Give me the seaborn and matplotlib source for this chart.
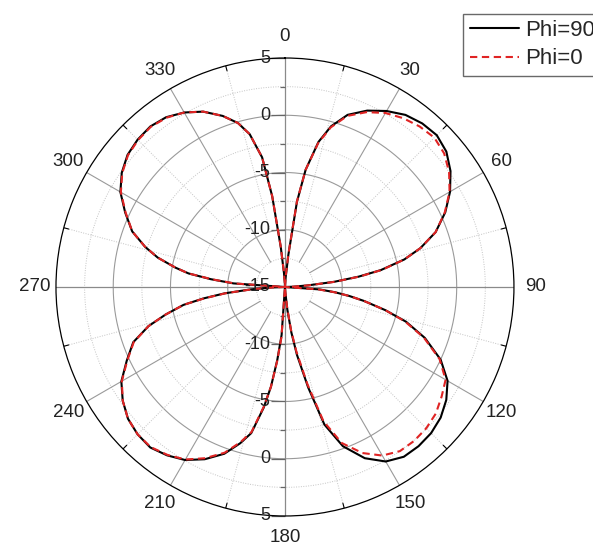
import numpy as np
import matplotlib
matplotlib.use("Agg")
import matplotlib.pyplot as plt
import seaborn as sns

# ---- data ----
# sample offsets (degrees) inside each 90-degree quadrant
OFFSETS = [0, 4, 6, 8, 10, 13, 16, 20, 25, 30, 35, 40, 45, 50, 55, 60, 65, 70, 74, 77, 80, 82, 84, 86, 88]
ANGLES_DEG = [q * 90 + o for q in range(4) for o in OFFSETS] + [360]

# Phi=90 (black solid), dB per quadrant
phi90_q1 = [-15, -14.2, -12.2, -7.5, -4.6, -2.0, -0.4, 1.0, 2.0, 2.75, 3.35, 3.65, 3.75, 3.4, 2.65, 1.65, 0.45, -1.0, -2.7, -4.3, -6.5, -8.5, -10.7, -13.0, -14.3]
phi90_q2 = [-15, -12.0, -10.6, -9.3, -8.0, -6.0, -4.0, -2.0, 0.0, 1.4, 2.2, 2.75, 3.05, 3.15, 3.1, 2.6, 1.5, -0.2, -2.5, -6.0, -9.0, -11.0, -13.0, -14.5, -15]
phi90_q3 = [-15, -10.8, -8.6, -6.2, -4.3, -1.9, -0.8, 0.5, 1.6, 2.45, 2.95, 3.3, 3.2, 2.9, 2.3, 1.5, 0.25, -0.9, -2.6, -4.3, -6.0, -7.8, -9.7, -12.0, -13.8]
phi90_q4 = [-15, -10.5, -8.5, -6.5, -5.3, -3.6, -2.3, -0.8, 0.4, 1.6, 2.4, 2.95, 3.2, 3.3, 3.1, 2.6, 1.9, 0.9, -0.1, -1.3, -3.5, -7.0, -11.5, -13.8, -14.7]
PHI90 = phi90_q1 + phi90_q2 + phi90_q3 + phi90_q4 + [-15]

# Phi=0 (red dashed), dB per quadrant
phi0_q1 = [-15, -14.0, -12.0, -7.4, -4.6, -2.1, -0.5, 0.9, 1.85, 2.55, 3.0, 3.3, 3.45, 3.15, 2.5, 1.6, 0.4, -1.0, -2.7, -4.3, -6.4, -8.4, -10.6, -12.9, -14.3]
phi0_q2 = [-15, -12.1, -10.7, -9.3, -8.0, -6.0, -4.1, -2.1, -0.1, 1.2, 1.7, 2.2, 2.45, 2.55, 2.5, 2.0, 1.0, -0.5, -2.8, -6.3, -9.3, -11.2, -13.2, -14.6, -15]
phi0_q3 = [-15, -10.6, -8.5, -6.2, -4.4, -2.0, -0.9, 0.4, 1.5, 2.4, 2.9, 3.25, 3.2, 2.9, 2.3, 1.45, 0.2, -0.95, -2.6, -4.3, -6.0, -7.9, -9.8, -12.1, -13.9]
phi0_q4 = [-15, -10.6, -8.6, -6.5, -5.3, -3.6, -2.3, -0.8, 0.35, 1.55, 2.35, 2.9, 3.15, 3.25, 3.05, 2.6, 1.9, 0.9, -0.1, -1.3, -3.5, -7.0, -11.4, -13.7, -14.7]
PHI0 = phi0_q1 + phi0_q2 + phi0_q3 + phi0_q4 + [-15]

SERIES_LABELS = ["Phi=90", "Phi=0"]
ANGLE_TICKS = [0, 30, 60, 90, 120, 150, 180, 210, 240, 270, 300, 330]
R_TICKS_TOP = [5, 0, -5, -10, -15]
R_TICKS_BOTTOM = [5, 0, -5, -10]
R_MIN, R_MAX = -15, 5

# ---- style ----
sns.set_theme(style="white")
plt.rcParams["font.family"] = ["Liberation Sans", "DejaVu Sans"]

fig = plt.figure(figsize=(5.93, 5.45), dpi=100)
ax = fig.add_axes([0.0944, 0.0532, 0.7723, 0.8404], projection="polar")
ax.set_theta_zero_location("N")
ax.set_theta_direction(-1)
ax.set_ylim(R_MIN, R_MAX)
ax.grid(False)
ax.set_xticks([])
ax.set_yticks([])
ax.spines["polar"].set_color("black")
ax.spines["polar"].set_linewidth(0.9)

full = np.linspace(0, 2 * np.pi, 721)
# rings
for r in [-10, -5, 0]:
    ax.plot(full, np.full_like(full, r), color="#9a9a9a", lw=0.8, zorder=1)
for r in [-12.5, -7.5, -2.5, 2.5]:
    ax.plot(full, np.full_like(full, r), color="#c4c4c4", lw=0.7, ls=(0, (1, 1.5)), zorder=1)
# spokes
for a in range(0, 360, 30):
    t = np.deg2rad(a)
    if a % 90 == 0:
        ax.plot([t, t], [R_MIN, R_MAX], color="#8a8a8a", lw=0.9, zorder=1)
    else:
        ax.plot([t, t], [-12.5, R_MAX], color="#9a9a9a", lw=0.8, zorder=1)
for a in range(15, 360, 30):
    t = np.deg2rad(a)
    ax.plot([t, t], [-10, R_MAX], color="#c4c4c4", lw=0.7, ls=(0, (1, 1.5)), zorder=1)
    ax.plot([t, t], [4.55, R_MAX], color="black", lw=0.8, zorder=2)

# radial axis ticks (left of vertical axis)
minor_r = [2.5, -2.5, -7.5, -12.5]
for th in [0, np.pi]:
    ax.plot([th] * 4, [5, 0, -5, -10], ls="none", marker=0, markersize=10,
            markeredgewidth=0.9, color="#666666", zorder=2, clip_on=False)
    ax.plot([th] * len(minor_r), minor_r, ls="none", marker=0, markersize=3.5,
            markeredgewidth=0.9, color="#666666", zorder=2, clip_on=False)

# data lines
theta = np.deg2rad(ANGLES_DEG)
sns.lineplot(x=theta, y=PHI90, ax=ax, sort=False, estimator=None, color="black",
             lw=1.5, label=SERIES_LABELS[0], zorder=3)
sns.lineplot(x=theta, y=PHI0, ax=ax, sort=False, estimator=None, color="#e02424",
             lw=1.5, ls=(0, (3.5, 2.2)), label=SERIES_LABELS[1], zorder=4)
ax.set_xlabel("")
ax.set_ylabel("")
ax.set_ylim(R_MIN, R_MAX)

# angular labels
for a in ANGLE_TICKS:
    ax.text(np.deg2rad(a), 6.85, str(a), ha="center", va="center", fontsize=13.5, color="#222222")

# radial labels
for v in R_TICKS_TOP:
    ax.annotate(str(v), xy=(0, v), xytext=(-15, 0), textcoords="offset pixels",
                ha="right", va="center", fontsize=13, color="#222222", zorder=5)
for v in R_TICKS_BOTTOM:
    ax.annotate(str(v), xy=(np.pi, v), xytext=(-15, 0), textcoords="offset pixels",
                ha="right", va="center", fontsize=13, color="#222222", zorder=5)

leg = ax.legend(loc="upper left", bbox_to_anchor=(463.5 / 593, 1 - 14 / 545),
                bbox_transform=fig.transFigure, fontsize=16, frameon=True, fancybox=False,
                handlelength=2.2, handletextpad=0.3, labelspacing=0.32, borderpad=0.28,
                borderaxespad=0)
leg.get_frame().set_edgecolor("#444444")
leg.get_frame().set_linewidth(1.0)

fig.savefig("out.png", dpi=100)
